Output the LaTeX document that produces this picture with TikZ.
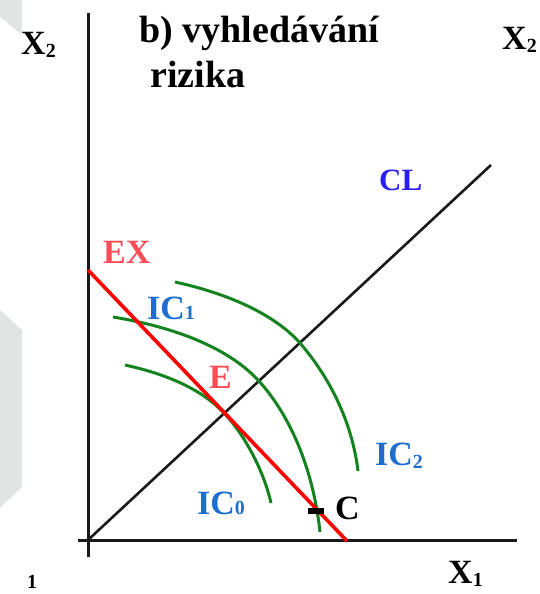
\documentclass[tikz,border=0pt]{standalone}
\usepackage{fontspec}
\setmainfont{Liberation Serif}
\usetikzlibrary{calc}
\definecolor{axisblack}{RGB}{25,25,25}
\definecolor{budgetred}{RGB}{255,0,0}
\definecolor{labelred}{RGB}{255,75,85}
\definecolor{clblue}{RGB}{40,30,250}
\definecolor{icblue}{RGB}{30,110,205}
\definecolor{icgreen}{RGB}{20,130,30}
\definecolor{pagegray}{RGB}{226,228,228}
\newcommand{\flatsub}[1]{{\fontsize{20}{20}\selectfont #1}}
\newcommand{\lowsub}[1]{\raisebox{-3pt}{\fontsize{20}{20}\selectfont #1}}

\begin{document}
\begin{tikzpicture}[x=1pt, y=-1pt,
    lbl/.style={anchor=base west, inner sep=0pt, font=\bfseries\fontsize{34}{36}\selectfont},
    axis/.style={axisblack, line width=3pt},
    icurve/.style={icgreen, line width=3pt}]
  \useasboundingbox (0,0) rectangle (540,594);
  \fill[pagegray] (0,0) -- (22,0) -- (22,35) -- (0,17) -- cycle;
  \fill[pagegray] (0,310) -- (22,330) -- (22,487) -- (0,508) -- cycle;

  \coordinate (O) at (88,540);
  \coordinate (xstart) at (78,540);
  \coordinate (xend) at (517,540);
  \coordinate (ystart) at (88,557);
  \coordinate (yend) at (88,13);
  \coordinate (clend) at (491,165);
  \coordinate (exa) at (88,270);
  \coordinate (exb) at (347,541);
  \draw[axis] (xstart) -- (xend);
  \draw[axis] (ystart) -- (yend);
  \draw[axisblack, line width=2.6pt] (O) -- (clend);

  \draw[icurve] (125,365) .. controls (175,376) and (205,393) .. (224,413)
    .. controls (243,433) and (263,468) .. (271,503);
  \draw[icurve] (113,317) .. controls (180,328) and (230,350) .. (258,380)
    .. controls (290,415) and (313,468) .. (320,532);
  \draw[icurve] (175,282) .. controls (230,294) and (275,315) .. (300,343)
    .. controls (330,378) and (352,422) .. (358,471);
  \draw[budgetred, line width=3.6pt] (exa) -- (exb);
  \node[fill=black, inner sep=0pt, minimum width=16pt, minimum height=6pt] (cmark) at (316,511) {};

  \node[lbl, font=\bfseries\fontsize{38}{40}\selectfont] (title) at (139,43) {b) vyhledávání};
  \node[lbl, font=\bfseries\fontsize{38}{40}\selectfont] (title2) at (150,88) {rizika};
  \node[lbl] (xtwoleft) at (21,55) {X\lowsub{2}};
  \node[lbl] (xtworight) at (502,49) {X\lowsub{2}};
  \node[lbl, clblue, font=\bfseries\fontsize{31}{33}\selectfont] (cl) at (379,190) {CL};
  \node[lbl, labelred] (ex) at (103,263) {EX};
  \node[lbl, icblue] (icone) at (147,319) {IC\flatsub{1}};
  \node[lbl, labelred] (e) at (209,388) {E};
  \node[lbl, icblue] (ictwo) at (375,465) {IC\lowsub{2}};
  \node[lbl, icblue] (iczero) at (197,514) {IC\flatsub{0}};
  \node[lbl] (c) at (335,519) {C};
  \node[lbl] (xone) at (448,583) {X\lowsub{1}};
  \node[lbl, font=\bfseries\fontsize{20}{20}\selectfont] (xonecut) at (27,588) {1};
\end{tikzpicture}
\end{document}
